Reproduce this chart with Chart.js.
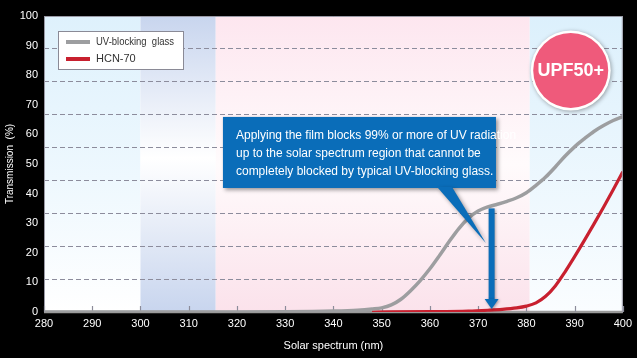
<!DOCTYPE html>
<html>
<head>
<meta charset="utf-8">
<script src="https://cdn.jsdelivr.net/npm/chart.js@4.4.0/dist/chart.umd.min.js"></script>
<style>
  html, body { margin: 0; padding: 0; background: #000; }
  #wrap { width: 637px; height: 358px; }
</style>
</head>
<body>
<div id="wrap"><canvas id="spectrumChart"></canvas></div>
<script>
// Transmission curves (nm -> %)
const glassNm = [280, 320, 330, 340, 345, 348, 350, 352, 354, 356, 358, 360, 362, 364, 366, 368, 370, 372, 374, 376, 378, 380, 382, 384, 386, 388, 390, 392, 394, 396, 398, 400]
const glassValues = [0, 0, 0.05, 0.3, 0.6, 1, 1.4, 2.4, 4.3, 7.2, 10.6, 14.6, 19.1, 23.8, 28.2, 31.7, 34.1, 35.5, 36.4, 37.4, 38.6, 40.3, 42.8, 45.6, 49, 52.6, 55.8, 58.5, 61, 63, 64.7, 66]
const filmNm = [348, 360, 368, 372, 375, 378, 380, 382, 384, 386, 388, 390, 392, 394, 396, 398, 400]
const filmValues = [0, 0.1, 0.3, 0.6, 0.9, 1.4, 2, 3.1, 5.3, 8.8, 13.5, 18.7, 24.1, 29.7, 35.4, 41.3, 47.4]

const seriesNames = ["UV-blocking  glass", "HCN-70"]
const seriesColors = ["#9d9ea0", "#c8202f"]

// spectrum regions shaded behind the curves
const bandEdges = [280, 300, 315.6, 380.7, 400]
const bandColors = [
  [[0, "#def1fc"], [0.55, "#eef8fe"], [1, "#ffffff"]],
  [[0, "#c8d5ee"], [0.48, "#ffffff"], [1, "#c8d5ee"]],
  [[0, "#fde6ef"], [0.5, "#fffbfc"], [1, "#fbe2eb"]],
  [[0, "#dcf0fc"], [1, "#fafdff"]],
]

const calloutLines = [
  "Applying the film blocks 99% or more of UV radiation",
  "up to the solar spectrum region that cannot be",
  "completely blocked by typical UV-blocking glass.",
]
const badgeText = "UPF50+"

const FONT = "'Liberation Sans', Arial, sans-serif"

function toPoints(xs, ys) {
  return xs.map((v, i) => ({ x: v, y: ys[i] }))
}

const backdrop = {
  id: "backdrop",
  beforeDraw(chart) {
    const { ctx, chartArea: a, scales: { x } } = chart
    ctx.save()
    ctx.fillStyle = "#000"
    ctx.fillRect(0, 0, chart.width, chart.height)
    ctx.fillStyle = "#fff"
    ctx.fillRect(a.left, a.top, a.right - a.left, a.bottom - a.top)
    bandColors.forEach((stops, i) => {
      const x0 = x.getPixelForValue(bandEdges[i])
      const x1 = x.getPixelForValue(bandEdges[i + 1])
      const g = ctx.createLinearGradient(0, a.top, 0, a.bottom)
      stops.forEach(([p, c]) => g.addColorStop(p, c))
      ctx.fillStyle = g
      ctx.fillRect(x0, a.top, x1 - x0, a.bottom - a.top)
    })
    ctx.restore()
  },
  beforeDatasetsDraw(chart) {
    const { ctx, chartArea: a, scales: { x } } = chart
    ctx.save()
    // thick bottom axis line
    ctx.strokeStyle = "#9a9a9a"
    ctx.lineWidth = 2.5
    ctx.beginPath()
    ctx.moveTo(a.left, a.bottom)
    ctx.lineTo(a.right, a.bottom)
    ctx.stroke()
    // small inner tick marks on the x axis
    ctx.strokeStyle = "#8c8c9a"
    ctx.lineWidth = 1.2
    x.ticks.forEach((t) => {
      const px = Math.round(x.getPixelForValue(t.value)) + 0.5
      ctx.beginPath()
      ctx.moveTo(px, a.bottom - 6)
      ctx.lineTo(px, a.bottom)
      ctx.stroke()
    })
    ctx.restore()
  },
}

const overlay = {
  id: "overlay",
  afterDatasetsDraw(chart) {
    const { ctx, chartArea: a, scales: { x, y } } = chart
    ctx.save()

    // plot frame
    ctx.strokeStyle = "#9a9aa6"
    ctx.lineWidth = 1
    ctx.beginPath()
    ctx.moveTo(a.left + 0.5, a.bottom)
    ctx.lineTo(a.left + 0.5, a.top + 0.5)
    ctx.lineTo(a.right - 0.5, a.top + 0.5)
    ctx.lineTo(a.right - 0.5, a.bottom)
    ctx.stroke()

    // legend box
    const lx = a.left + 14, ly = a.top + 15
    ctx.fillStyle = "#fff"
    ctx.fillRect(lx, ly, 126, 39)
    ctx.strokeStyle = "#8a8a96"
    ctx.lineWidth = 1
    ctx.strokeRect(lx + 0.5, ly + 0.5, 125, 38)
    chart.data.datasets.forEach((ds, i) => {
      const cy = ly + 11 + i * 17
      ctx.strokeStyle = ds.borderColor
      ctx.lineWidth = 4
      ctx.beginPath()
      ctx.moveTo(lx + 8, cy)
      ctx.lineTo(lx + 32, cy)
      ctx.stroke()
      ctx.fillStyle = "#333"
      ctx.font = "11px " + FONT
      ctx.textBaseline = "middle"
      ctx.textAlign = "left"
      ctx.fillText(ds.label, lx + 38, cy, 78)
    })

    // callout box with pointer
    const boxL = x.getPixelForValue(317.1), boxR = x.getPixelForValue(373.7)
    const boxT = y.getPixelForValue(65.9), boxB = y.getPixelForValue(41.9)
    const blue = "#0a6db9"
    ctx.shadowColor = "rgba(0,0,0,0.4)"
    ctx.shadowBlur = 4
    ctx.shadowOffsetX = 2
    ctx.shadowOffsetY = 2
    ctx.fillStyle = blue
    ctx.fillRect(boxL, boxT, boxR - boxL, boxB - boxT)
    ctx.beginPath()
    ctx.moveTo(x.getPixelForValue(361.5), boxB - 1)
    ctx.lineTo(x.getPixelForValue(364.6), boxB - 1)
    ctx.lineTo(x.getPixelForValue(371.6), y.getPixelForValue(23.3))
    ctx.closePath()
    ctx.fill()
    ctx.shadowColor = "transparent"
    ctx.fillStyle = "#fff"
    ctx.font = "12px " + FONT
    ctx.textBaseline = "middle"
    ctx.textAlign = "left"
    calloutLines.forEach((line, i) => {
      ctx.fillText(line, boxL + 13, boxT + 19 + i * 18)
    })

    // downward arrow to the cut-off wavelength
    const ax = x.getPixelForValue(372.8)
    const aTop = y.getPixelForValue(35), aTip = y.getPixelForValue(1)
    ctx.shadowColor = "rgba(0,0,0,0.35)"
    ctx.shadowBlur = 3
    ctx.shadowOffsetX = 1
    ctx.shadowOffsetY = 1
    ctx.fillStyle = blue
    ctx.fillRect(ax - 3, aTop, 6, aTip - aTop - 9)
    ctx.beginPath()
    ctx.moveTo(ax - 7, aTip - 10)
    ctx.lineTo(ax + 7, aTip - 10)
    ctx.lineTo(ax, aTip)
    ctx.closePath()
    ctx.fill()

    // UPF badge
    const bx = x.getPixelForValue(389.2), by = y.getPixelForValue(81.6)
    ctx.shadowColor = "rgba(0,0,0,0.35)"
    ctx.shadowBlur = 4
    ctx.shadowOffsetX = 1
    ctx.shadowOffsetY = 1
    ctx.fillStyle = "#fff"
    ctx.beginPath()
    ctx.arc(bx, by, 40, 0, Math.PI * 2)
    ctx.fill()
    ctx.shadowColor = "transparent"
    ctx.fillStyle = "#ef5a7b"
    ctx.beginPath()
    ctx.arc(bx, by, 37.5, 0, Math.PI * 2)
    ctx.fill()
    ctx.fillStyle = "#fff"
    ctx.font = "bold 18px " + FONT
    ctx.textAlign = "center"
    ctx.fillText(badgeText, bx, by + 1)

    ctx.restore()
  },
}

new Chart(document.getElementById("spectrumChart"), {
  type: "line",
  data: {
    datasets: [
      {
        label: seriesNames[0],
        data: toPoints(glassNm, glassValues),
        borderColor: seriesColors[0],
        borderWidth: 3.5,
        pointRadius: 0,
        cubicInterpolationMode: "monotone",
      },
      {
        label: seriesNames[1],
        data: toPoints(filmNm, filmValues),
        borderColor: seriesColors[1],
        borderWidth: 3.2,
        pointRadius: 0,
        cubicInterpolationMode: "monotone",
      },
    ],
  },
  options: {
    responsive: true,
    maintainAspectRatio: false,
    animation: false,
    layout: { padding: { top: 16, right: 14, left: 0, bottom: 0 } },
    plugins: {
      legend: { display: false },
      tooltip: { enabled: false },
    },
    scales: {
      x: {
        type: "linear",
        min: 280,
        max: 400,
        grid: { display: false, drawTicks: false },
        border: { display: false },
        ticks: { stepSize: 10, color: "#fff", padding: 5, font: { size: 11, family: FONT } },
        title: {
          display: true,
          text: "Solar spectrum (nm)",
          color: "#fff",
          font: { size: 11, family: FONT },
          padding: { top: 4, bottom: 5 },
        },
        afterFit(s) { s.height = 46 },
      },
      y: {
        min: 0,
        max: 100,
        grid: { display: false, drawTicks: false },
        border: { display: false },
        ticks: { stepSize: 10, color: "#fff", padding: 6, font: { size: 11, family: FONT } },
        title: {
          display: true,
          text: "Transmission  (%)",
          color: "#fff",
          font: { size: 10, family: FONT },
          padding: { top: 4, bottom: 0 },
        },
        afterFit(s) { s.width = 44 },
      },
      // dashed guide lines split the plot into nine rows, as in the original
      yg: {
        position: "left",
        min: 0,
        max: 9,
        ticks: { display: false, stepSize: 1 },
        grid: { color: "#8c8c9c", lineWidth: 1, drawTicks: false, borderDash: [5, 3] },
        border: { display: false, dash: [5, 3] },
        afterFit(s) { s.width = 0 },
      },
    },
  },
  plugins: [backdrop, overlay],
})
</script>
</body>
</html>
